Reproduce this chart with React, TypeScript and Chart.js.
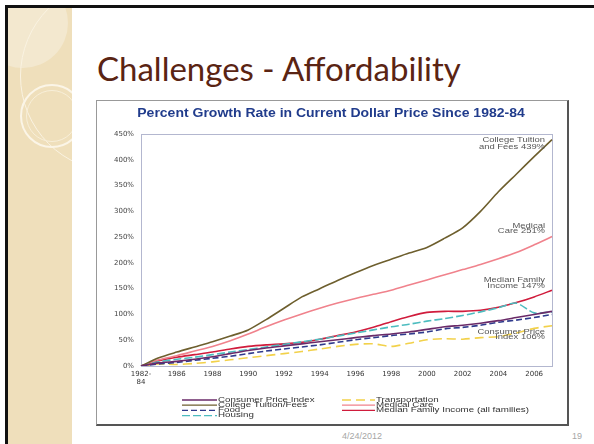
import React, { useEffect, useRef } from "react";
import { Chart, registerables } from "chart.js";
Chart.register(...registerables);

// ---------- data ----------
const years = ["1982-84", "1985", "1986", "1987", "1988", "1989", "1990", "1991", "1992", "1993", "1994", "1995", "1996", "1997", "1998", "1999", "2000", "2001", "2002", "2003", "2004", "2005", "2006", "2007"];
const shownTicks = ["1982-84", "1986", "1988", "1990", "1992", "1994", "1996", "1998", "2000", "2002", "2004", "2006"];

const consumerPriceIndex = [0, 6, 9, 13, 18, 24, 30, 35, 39, 43, 47, 51, 55, 59, 62, 66, 71, 76, 79, 83, 88, 94, 100, 106];
const collegeTuition = [0, 16, 27, 37, 47, 58, 70, 90, 112, 134, 150, 166, 181, 195, 207, 219, 230, 248, 268, 300, 338, 372, 406, 439];
const food = [0, 4, 7, 11, 15, 19, 24, 29, 33, 37, 41, 46, 51, 55, 59, 62, 66, 72, 75, 79, 85, 89, 94, 100];
const housing = [0, 8, 13, 17, 22, 27, 32, 37, 42, 47, 52, 58, 64, 70, 76, 81, 87, 92, 98, 105, 113, 122, 103, 105];
const transportation = [0, 4, 3, 5, 8, 12, 16, 20, 24, 28, 33, 38, 42, 43, 38, 44, 51, 53, 52, 55, 57, 64, 73, 78];
const medicalCare = [0, 12, 20, 29, 38, 49, 62, 76, 89, 101, 112, 122, 131, 139, 147, 157, 167, 177, 187, 197, 208, 220, 235, 251];
const medianIncome = [0, 10, 17, 22, 27, 33, 38, 41, 43, 46, 52, 59, 66, 75, 86, 96, 104, 106, 106, 108, 114, 123, 134, 147];

const seriesNames = ["Consumer Price Index", "College Tuition/Fees", "Food", "Housing", "Transportation", "Medical Care", "Median Family Income (all families)"];
const seriesColors = ["#6a2a68", "#6e5f2e", "#2f3a8c", "#4cbcbf", "#f2d14a", "#f0828c", "#d01c3c"];
const seriesDash: number[][] = [[], [], [6, 3], [8, 3], [9, 5], [], []];
const legendColumns = [[0, 1, 2, 3], [4, 5, 6]];

const chartTitle = "Percent Growth Rate in Current Dollar Price Since 1982-84";
const endNotes = [
  { lines: ["College Tuition", "and Fees 439%"], values: [437, 425] },
  { lines: ["Medical", "Care 251%"], values: [271, 261] },
  { lines: ["Median Family", "Income 147%"], values: [166, 154] },
  { lines: ["Consumer Price", "Index 106%"], values: [66, 55] },
];

const drawStretched = (ctx: CanvasRenderingContext2D, text: string, x: number, y: number, sx: number, align: "left" | "right" | "center") => {
  ctx.save();
  ctx.translate(x, y);
  ctx.scale(sx, 1);
  ctx.textAlign = align;
  ctx.fillText(text, 0, 0);
  ctx.restore();
};

const decorPlugin = {
  id: "decor",
  beforeDatasetsDraw(chart: any) {
    const { ctx, chartArea } = chart;
    ctx.save();
    ctx.strokeStyle = "#b3b7cf";
    ctx.lineWidth = 1;
    ctx.strokeRect(chartArea.left + 0.5, chartArea.top + 0.5, chartArea.right - chartArea.left, chartArea.bottom - chartArea.top);
    ctx.restore();
  },
  afterDraw(chart: any) {
    const { ctx, chartArea, scales } = chart;
    const w = chart.width;
    ctx.save();
    // title
    ctx.fillStyle = "#213c8c";
    ctx.font = "bold 12.5px 'Liberation Sans', Arial, sans-serif";
    ctx.textBaseline = "middle";
    drawStretched(ctx, chartTitle, w / 2 - 1, 13, 1.12, "center");

    // end notes
    ctx.fillStyle = "#555";
    ctx.font = "6.5px 'Liberation Sans', Arial, sans-serif";
    endNotes.forEach((n) => {
      n.lines.forEach((t, i) => {
        drawStretched(ctx, t, chartArea.right - 7, scales.y.getPixelForValue(n.values[i]), 1.45, "right");
      });
    });

    // legend
    const rowY0 = chartArea.bottom + 34;
    const rowH = 5.2;
    const colX = [chartArea.left + 41, chartArea.left + 201];
    const lineLen = [35, 33];
    ctx.font = "6.3px 'Liberation Sans', Arial, sans-serif";
    legendColumns.forEach((col, c) => {
      col.forEach((di, r) => {
        const y = rowY0 + r * rowH;
        ctx.strokeStyle = seriesColors[di];
        ctx.lineWidth = 1.3;
        ctx.setLineDash(seriesDash[di]);
        ctx.beginPath();
        ctx.moveTo(colX[c], y);
        ctx.lineTo(colX[c] + lineLen[c], y);
        ctx.stroke();
        ctx.setLineDash([]);
        ctx.fillStyle = "#333";
        drawStretched(ctx, seriesNames[di], colX[c] + lineLen[c] + 1, y, 1.55, "left");
      });
    });
    ctx.restore();
  },
};

function ChartBox() {
  const ref = useRef<HTMLCanvasElement>(null);
  useEffect(() => {
    const datasets = [consumerPriceIndex, collegeTuition, food, housing, transportation, medicalCare, medianIncome].map((d, i) => ({
      label: seriesNames[i],
      data: d,
      borderColor: seriesColors[i],
      backgroundColor: seriesColors[i],
      borderWidth: 1.6,
      borderDash: seriesDash[i],
      pointRadius: 0,
      tension: 0.25,
      fill: false,
    }));
    const chart = new Chart(ref.current!, {
      type: "line",
      data: { labels: years, datasets },
      options: {
        responsive: false,
        animation: false,
        devicePixelRatio: 1,
        layout: { padding: { top: 33, right: 15, bottom: 36, left: 0 } },
        plugins: { legend: { display: false }, title: { display: false }, tooltip: { enabled: false } },
        scales: {
          x: {
            grid: { display: false, drawTicks: false },
            border: { display: true, color: "#a9aecb" },
            ticks: {
              autoSkip: false,
              maxRotation: 0,
              padding: 4,
              color: "#333",
              font: { family: "'DejaVu Sans', sans-serif", size: 7 },
              callback: (_v: any, i: number) => {
                const l = years[i];
                if (!shownTicks.includes(l)) return "";
                return l === "1982-84" ? ["1982-", "84"] : l;
              },
            },
            afterFit: (s: any) => { s.height = 22; },
          },
          y: {
            min: 0,
            max: 450,
            grid: { display: false, drawTicks: false },
            border: { display: true, color: "#a9aecb" },
            ticks: {
              stepSize: 50,
              padding: 7,
              color: "#444",
              font: { family: "'DejaVu Sans', sans-serif", size: 7 },
              callback: (v: any) => v + "%",
            },
            afterFit: (s: any) => { s.width = 44; },
          },
        },
      },
      plugins: [decorPlugin],
    } as any);
    return () => chart.destroy();
  }, []);
  return <canvas ref={ref} width={470} height={323} style={{ display: "block", width: 470, height: 323, filter: "blur(0.3px)" }} />;
}

export default function App() {
  return (
    <div style={{ position: "fixed", left: 0, top: 0, width: 594, height: 444, overflow: "hidden", background: "#fff" }}>
      <div style={{ position: "absolute", left: 5, top: 5, right: 0, bottom: 0, borderLeft: "3px solid #111", borderTop: "3px solid #111" }} />
      <div style={{ position: "absolute", left: 8, top: 8, width: 64, bottom: 0, background: "#efdfbb", overflow: "hidden" }}>
        <div style={{ position: "absolute", left: -30, top: -30, width: 90, height: 90, borderRadius: "50%", background: "#f3e8cf" }} />
        <div style={{ position: "absolute", left: 12, top: -28, width: 190, height: 190, borderRadius: "50%", border: "1.5px solid #faf3e2" }} />
        <div style={{ position: "absolute", left: 12, top: 76, width: 60, height: 60, borderRadius: "50%", border: "2px solid #fbf5e7" }} />
        <div style={{ position: "absolute", left: 18, top: 82, width: 50, height: 50, borderRadius: "50%", border: "1px solid #f8efd9" }} />
      </div>
      <div style={{ position: "absolute", left: 97, top: 48, fontFamily: "Lato, sans-serif", fontSize: 33, color: "#5a2413", whiteSpace: "nowrap", lineHeight: "40px" }}>
        Challenges - Affordability
      </div>
      <div style={{ position: "absolute", left: 96, top: 100, width: 470, height: 323, borderLeft: "1px solid #999", borderTop: "1px solid #999", borderRight: "2px solid #555", borderBottom: "2px solid #555", background: "#fff" }}>
        <ChartBox />
      </div>
      <div style={{ position: "absolute", left: 312, width: 100, top: 431, textAlign: "center", fontFamily: "'Liberation Sans', Arial, sans-serif", fontSize: 9, color: "#a6a6a6" }}>4/24/2012</div>
      <div style={{ position: "absolute", left: 572, top: 431, fontFamily: "'Liberation Sans', Arial, sans-serif", fontSize: 9, color: "#a6a6a6" }}>19</div>
    </div>
  );
}
